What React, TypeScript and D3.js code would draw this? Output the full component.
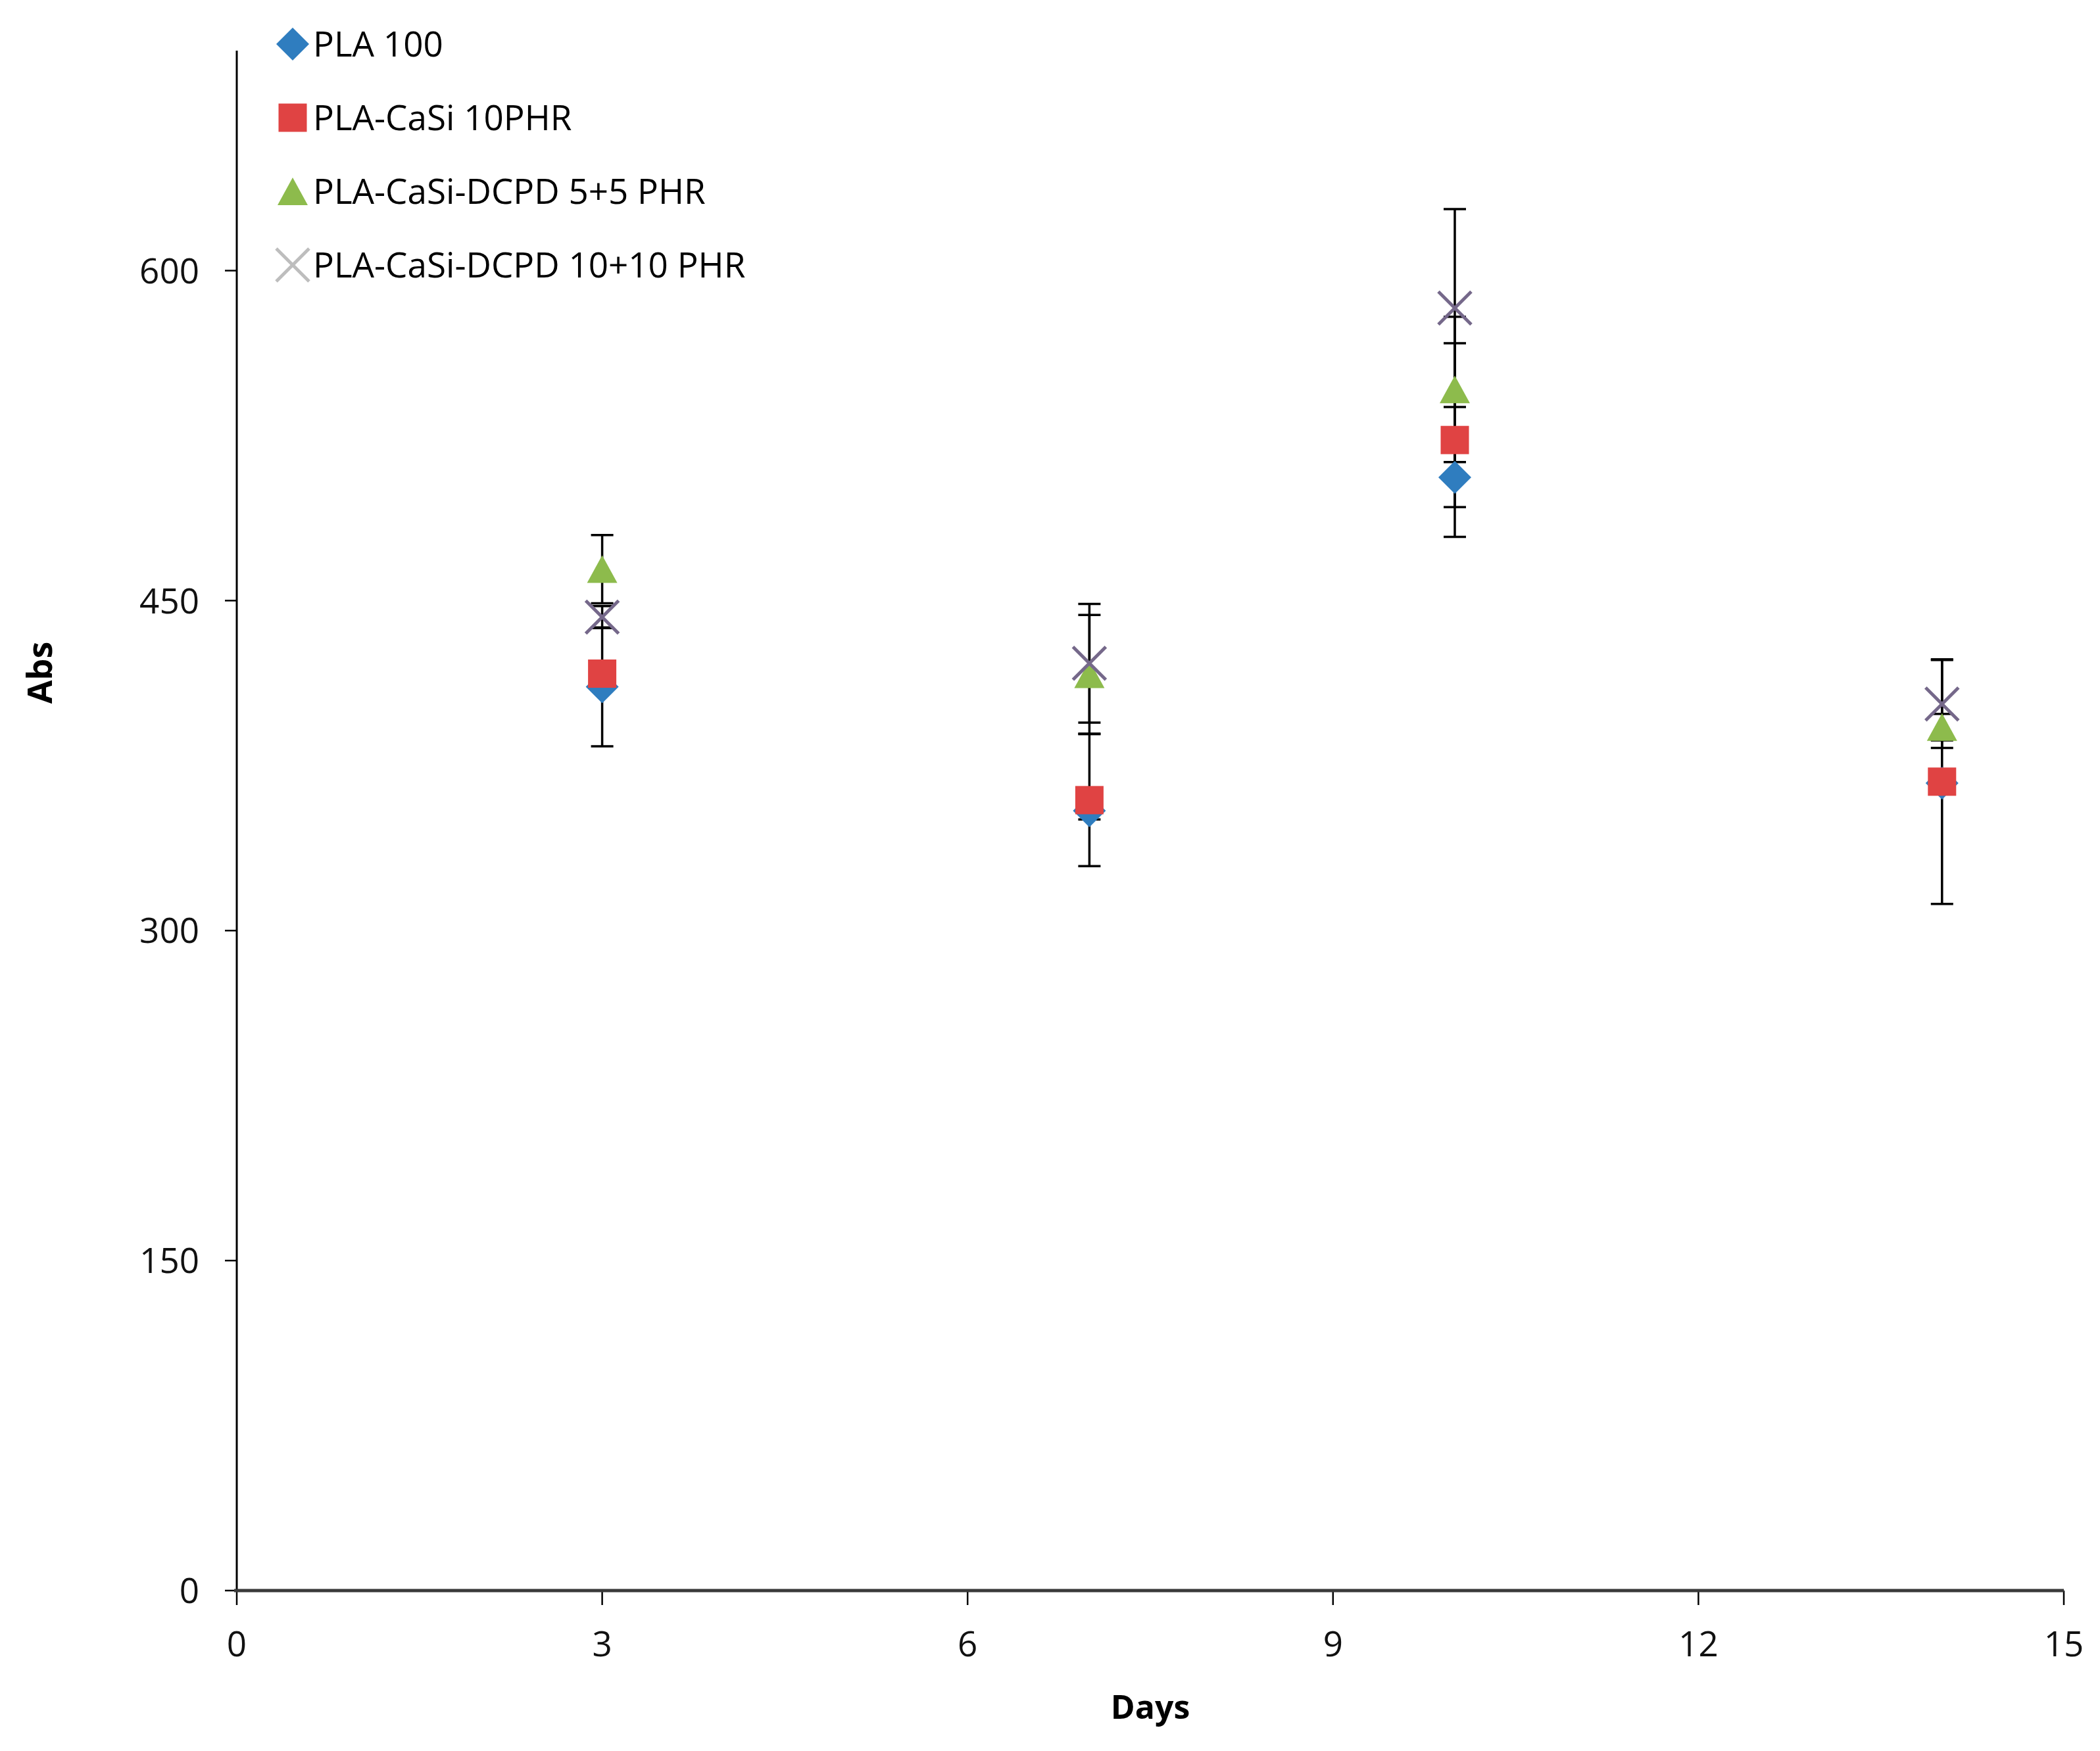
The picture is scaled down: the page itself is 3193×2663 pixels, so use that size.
import React from "react";
import * as d3 from "d3";

// Days on the x axis
const days = [3, 7, 10, 14];

// Series means (Abs)
const pla100 = [410.8, 354.5, 506, 367];
const plaCaSi10 = [416.8, 359.3, 523, 367.7];
const plaDcpd55 = [464.3, 416.5, 546, 392.5];
const plaDcpd1010 = [442.5, 421.5, 583, 403];

// Error bar half-widths (+/-)
const pla100Err = [27, 4, 13.5, 5];
const plaCaSi10Err = [4, 30, 44, 55.6];
const plaDcpd55Err = [15.5, 27, 33, 6];
const plaDcpd1010Err = [5, 27, 45, 20];

const seriesNames = [
  "PLA 100",
  "PLA-CaSi 10PHR",
  "PLA-CaSi-DCPD 5+5 PHR",
  "PLA-CaSi-DCPD 10+10 PHR",
];

const xTicks = [0, 3, 6, 9, 12, 15];
const yTicks = [0, 150, 300, 450, 600];

const WIDTH = 3193;
const HEIGHT = 2663;
const FONT = "'Open Sans', 'DejaVu Sans', sans-serif";

type Shape = "diamond" | "square" | "triangle" | "x";

const SERIES: { name: string; values: number[]; err: number[]; shape: Shape; color: string; legendColor: string }[] = [
  { name: seriesNames[0], values: pla100, err: pla100Err, shape: "diamond", color: "#2f7dbf", legendColor: "#2f7dbf" },
  { name: seriesNames[1], values: plaCaSi10, err: plaCaSi10Err, shape: "square", color: "#e04343", legendColor: "#e04343" },
  { name: seriesNames[2], values: plaDcpd55, err: plaDcpd55Err, shape: "triangle", color: "#8dbb4c", legendColor: "#8dbb4c" },
  { name: seriesNames[3], values: plaDcpd1010, err: plaDcpd1010Err, shape: "x", color: "#75688a", legendColor: "#bdbdbd" },
];

function Marker({ shape, cx, cy, color }: { shape: Shape; cx: number; cy: number; color: string }) {
  if (shape === "diamond") {
    const r = 25;
    return (
      <path
        d={`M${cx},${cy - r}L${cx + r},${cy}L${cx},${cy + r}L${cx - r},${cy}Z`}
        fill={color}
      />
    );
  }
  if (shape === "square") {
    const s = 43;
    return <rect x={cx - s / 2} y={cy - s / 2} width={s} height={s} fill={color} />;
  }
  if (shape === "triangle") {
    const w = 46;
    const h = 42;
    return (
      <path
        d={`M${cx},${cy - h / 2}L${cx + w / 2},${cy + h / 2}L${cx - w / 2},${cy + h / 2}Z`}
        fill={color}
      />
    );
  }
  const r = 25;
  return (
    <g stroke={color} strokeWidth={5}>
      <line x1={cx - r} y1={cy - r} x2={cx + r} y2={cy + r} />
      <line x1={cx - r} y1={cy + r} x2={cx + r} y2={cy - r} />
    </g>
  );
}

export default function App() {
  const margin = { left: 360, right: WIDTH - 3138, top: 77, bottom: HEIGHT - 2419 };

  const x = d3.scaleLinear().domain([0, 15]).range([margin.left, WIDTH - margin.right]);
  const y = d3.scaleLinear().domain([0, 700]).range([HEIGHT - margin.bottom, margin.top]);

  const capHalf = 17;

  return (
    <svg
      width={WIDTH}
      height={HEIGHT}
      style={{ position: "absolute", left: 0, top: 0, background: "#fff" }}
      fontFamily={FONT}
    >
      <rect width={WIDTH} height={HEIGHT} fill="#fff" />

      {/* y axis */}
      <line x1={x(0)} x2={x(0)} y1={y(700)} y2={y(0)} stroke="#000" strokeWidth={3} />
      {yTicks.map((t) => (
        <g key={`yt-${t}`}>
          <line x1={x(0) - 18} x2={x(0)} y1={y(t)} y2={y(t)} stroke="#000" strokeWidth={2.5} />
          <text
            x={x(0) - 57}
            y={y(t)}
            dy="0.36em"
            textAnchor="end"
            fontSize={53}
            fill="#111"
          >
            {t}
          </text>
        </g>
      ))}

      {/* x axis */}
      {xTicks.map((t) => (
        <g key={`xt-${t}`}>
          <line x1={x(t)} x2={x(t)} y1={y(0)} y2={y(0) + 22} stroke="#000" strokeWidth={2.5} />
          <text x={x(t)} y={y(0) + 81} dy="0.36em" textAnchor="middle" fontSize={53} fill="#111">
            {t}
          </text>
        </g>
      ))}
      <line x1={x(0) - 4} x2={x(15)} y1={y(0)} y2={y(0)} stroke="#3a3a3a" strokeWidth={5} />

      {/* axis titles */}
      <text x={1749} y={2596} dy="0.36em" textAnchor="middle" fontSize={50} fontWeight={700} fill="#000">
        Days
      </text>
      <text
        transform={`translate(60, 1023) rotate(-90)`}
        dy="0.36em"
        textAnchor="middle"
        fontSize={52}
        fontWeight={700}
        fill="#000"
      >
        Abs
      </text>

      {/* error bars */}
      {SERIES.map((s) =>
        days.map((d, i) => {
          const lo = y(s.values[i] - s.err[i]);
          const hi = y(s.values[i] + s.err[i]);
          const cx = x(d);
          return (
            <g key={`eb-${s.name}-${d}`} stroke="#000" strokeWidth={3.5}>
              <line x1={cx} x2={cx} y1={hi} y2={lo} />
              <line x1={cx - capHalf} x2={cx + capHalf} y1={hi} y2={hi} />
              <line x1={cx - capHalf} x2={cx + capHalf} y1={lo} y2={lo} />
            </g>
          );
        })
      )}

      {/* markers */}
      {SERIES.map((s) =>
        days.map((d, i) => (
          <Marker key={`m-${s.name}-${d}`} shape={s.shape} cx={x(d)} cy={y(s.values[i])} color={s.color} />
        ))
      )}

      {/* legend */}
      {SERIES.map((s, i) => {
        const ly = 67 + i * 112;
        return (
          <g key={`lg-${s.name}`}>
            <Marker shape={s.shape} cx={445} cy={ly} color={s.legendColor} />
            <text x={476} y={ly} dy="0.36em" fontSize={53} fill="#000">
              {s.name}
            </text>
          </g>
        );
      })}
    </svg>
  );
}
